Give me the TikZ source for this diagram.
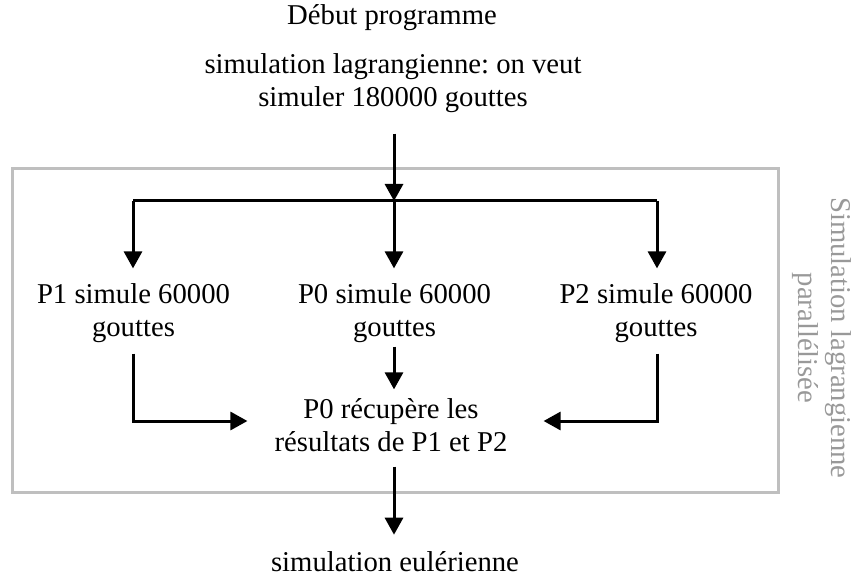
\documentclass[tikz,border=0pt]{standalone}
\usepackage{fontspec}
\setmainfont{Liberation Serif}
\usetikzlibrary{arrows.meta}
\frenchspacing
\begin{document}
\begin{tikzpicture}[x=1pt,y=-1pt,
  lbl/.style={font=\fontsize{28.7}{33}\selectfont, align=center, inner sep=0pt,
    execute at begin node=\strut, execute at end node=\strut},
  arr/.style={line width=3pt, -{Triangle[length=17pt,width=18pt]}},
  ln/.style={line width=3pt},
  grp/.style={draw=black!25, line width=3pt, inner sep=0pt},
  side/.style={font=\fontsize{28.7}{33}\selectfont, align=center, inner sep=0pt,
    text=black!40, rotate=-90}]
\useasboundingbox (0,0) rectangle (853,577);

\node[grp, minimum width=766pt, minimum height=323pt] (grpbox) at (395,330.5) {};

\node[lbl, anchor=base] (debut) at (392,25) {Début programme};
\node[lbl] (sim) at (393,84.9) {simulation lagrangienne: on veut\\simuler 180000 gouttes};
\node[lbl] (p1) at (133.5,315) {P1 simule 60000\\gouttes};
\node[lbl] (p0) at (394.5,315) {P0 simule 60000\\gouttes};
\node[lbl] (p2) at (656,315) {P2 simule 60000\\gouttes};
\node[lbl] (rec) at (391,430) {P0 récupère les\\résultats de P1 et P2};
\node[lbl, anchor=base] (eul) at (395,571) {simulation eulérienne};
\node[side] (side) at (821.5,338) {Simulation lagrangienne\\parallélisée};

\coordinate (j) at (394,201);
\coordinate (hl) at (133,201);
\coordinate (hr) at (657,201);
\coordinate (inL) at ([xshift=-27pt,yshift=9pt]rec.west);
\coordinate (inR) at ([xshift=36pt,yshift=9pt]rec.east);

\draw[arr] (sim.south -| j) ++(0,17) -- (j);
\draw[ln] (hl) -- (hr);
\draw[arr] (hl) -- ([yshift=15pt]p1.north -| hl);
\draw[arr] (j) -- ([yshift=15pt]p0.north -| j);
\draw[arr] (hr) -- ([yshift=15pt]p2.north -| hr);
\draw[arr] (p1.south -| hl) ++(0,7) |- (inL);
\draw[arr] (p2.south -| hr) ++(0,7) |- (inR);
\draw[arr] (p0.south -| j) -- ([yshift=9pt]rec.north -| j);
\draw[arr] (rec.south -| j) ++(0,5) -- ([yshift=13pt]eul.north -| j);
\end{tikzpicture}
\end{document}
